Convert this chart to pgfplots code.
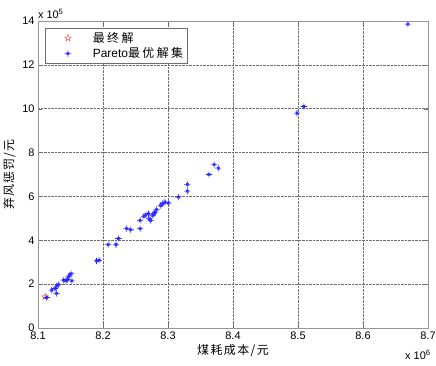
\documentclass[border=0pt]{standalone}
\usepackage{pgfplots}
\pgfplotsset{compat=1.18}
\usepackage{fontspec}
\setmainfont{Liberation Sans}
\newfontfamily\cjk[LetterSpace=12]{Noto Sans CJK SC}
\newfontfamily\cjkleg[LetterSpace=20]{Noto Sans CJK SC}
\newfontfamily\cjky[LetterSpace=8]{Noto Sans CJK SC}
\definecolor{gridgray}{RGB}{110,110,110}
\definecolor{axgray}{RGB}{150,150,150}
\pgfdeclareplotmark{mstar}{%
  \pgfpathmoveto{\pgfqpoint{-\pgfplotmarksize}{0pt}}%
  \pgfpathlineto{\pgfqpoint{\pgfplotmarksize}{0pt}}%
  \pgfpathmoveto{\pgfqpoint{0pt}{-\pgfplotmarksize}}%
  \pgfpathlineto{\pgfqpoint{0pt}{\pgfplotmarksize}}%
  \pgfpathmoveto{\pgfpointpolar{45}{0.6\pgfplotmarksize}}%
  \pgfpathlineto{\pgfpointpolar{225}{0.6\pgfplotmarksize}}%
  \pgfpathmoveto{\pgfpointpolar{135}{0.6\pgfplotmarksize}}%
  \pgfpathlineto{\pgfpointpolar{315}{0.6\pgfplotmarksize}}%
  \pgfusepathqstroke}
\pgfdeclareplotmark{pentagram}{%
  \pgfpathmoveto{\pgfpointpolar{90}{\pgfplotmarksize}}%
  \pgfpathlineto{\pgfpointpolar{126}{0.382\pgfplotmarksize}}%
  \pgfpathlineto{\pgfpointpolar{162}{\pgfplotmarksize}}%
  \pgfpathlineto{\pgfpointpolar{198}{0.382\pgfplotmarksize}}%
  \pgfpathlineto{\pgfpointpolar{234}{\pgfplotmarksize}}%
  \pgfpathlineto{\pgfpointpolar{270}{0.382\pgfplotmarksize}}%
  \pgfpathlineto{\pgfpointpolar{306}{\pgfplotmarksize}}%
  \pgfpathlineto{\pgfpointpolar{342}{0.382\pgfplotmarksize}}%
  \pgfpathlineto{\pgfpointpolar{18}{\pgfplotmarksize}}%
  \pgfpathlineto{\pgfpointpolar{54}{0.382\pgfplotmarksize}}%
  \pgfpathclose
  \pgfusepathqstroke}
\begin{document}
\begin{tikzpicture}
\begin{axis}[
  name=ax,
  scale only axis,
  clip mode=individual,
  width=390bp, height=307bp,
  xmin=8.1, xmax=8.7, ymin=0, ymax=14,
  xtick={8.1,8.2,8.3,8.4,8.5,8.6,8.7},
  ytick={0,2,4,6,8,10,12,14},
  xticklabel style={/pgf/number format/fixed,/pgf/number format/precision=1},
  scaled x ticks=false, scaled y ticks=false,
  /pgf/number format/assume math mode=true,
  tick label style={font=\fontsize{11}{13}\selectfont},
  grid=major,
  major grid style={gridgray, densely dotted, line width=0.5pt},
  axis line style={axgray, line width=0.8pt},
  tick style={gridgray},
  tick align=inside,
  xtick pos=both, ytick pos=both,
  xlabel={\cjk 煤耗成本/元},
  ylabel={\cjky 弃风惩罚/元},
  xlabel style={font=\fontsize{12}{14}\selectfont, yshift=2pt},
  ylabel style={font=\fontsize{12}{14}\selectfont, yshift=0pt},
  legend style={at={(0.018,0.977)}, anchor=north west, draw=gridgray, line width=0.5pt,
    font=\fontsize{12}{14}\selectfont, row sep=0pt, inner xsep=2pt, inner ysep=2pt},
  legend cell align=left,
  legend image code/.code={\path (0,0) (1.52cm,0); \draw[#1] plot coordinates {(0.72cm,0cm)};},
]
\addplot[only marks, mark=pentagram, mark size=3.5pt, color=red!80, mark options={line width=0.4pt}] coordinates {
(8.1108,1.42)
};
\addlegendentry{\cjkleg 最终解}
\addplot[only marks, mark=mstar, mark size=3.2pt, color=blue!85, mark options={line width=0.6pt}] coordinates {
(8.1134,1.39) (8.1211,1.73) (8.1262,1.80) (8.1287,1.91) (8.1287,1.58)
(8.1313,1.98) (8.1390,2.18) (8.1430,2.15) (8.1450,2.21) (8.1467,2.33)
(8.1490,2.41) (8.1510,2.48) (8.1520,2.15) (8.1900,3.06) (8.1940,3.09)
(8.2080,3.80) (8.2200,3.80) (8.2236,4.08) (8.2364,4.53) (8.2426,4.48)
(8.2570,4.53) (8.2570,4.91) (8.2630,5.09) (8.2660,5.17) (8.2700,5.21)
(8.2710,4.98) (8.2734,4.91) (8.2765,5.14) (8.2785,5.21) (8.2800,5.29)
(8.2826,5.41) (8.2888,5.59) (8.2918,5.67) (8.2954,5.74) (8.3005,5.70)
(8.3159,5.97) (8.3297,6.24) (8.3297,6.55) (8.3630,7.00) (8.3710,7.45)
(8.3774,7.29) (8.4985,9.80) (8.5090,10.10) (8.6690,13.86)
};
\addlegendentry{Pareto{\cjkleg 最优解集}}
\node[anchor=south west, font=\fontsize{11}{13}\selectfont, inner sep=1pt] at (rel axis cs:-0.003,1.003) {x $\mathrm{10}^{\mathrm{5}}$};
\node[anchor=north east, font=\fontsize{11}{13}\selectfont, inner sep=1pt] at (rel axis cs:1.01,-0.068) {x $\mathrm{10}^{\mathrm{6}}$};
\end{axis}
\pgfresetboundingbox
\path ([xshift=-38bp,yshift=-38bp]ax.south west) rectangle ([xshift=8bp,yshift=21bp]ax.north east);
\end{tikzpicture}
\end{document}
